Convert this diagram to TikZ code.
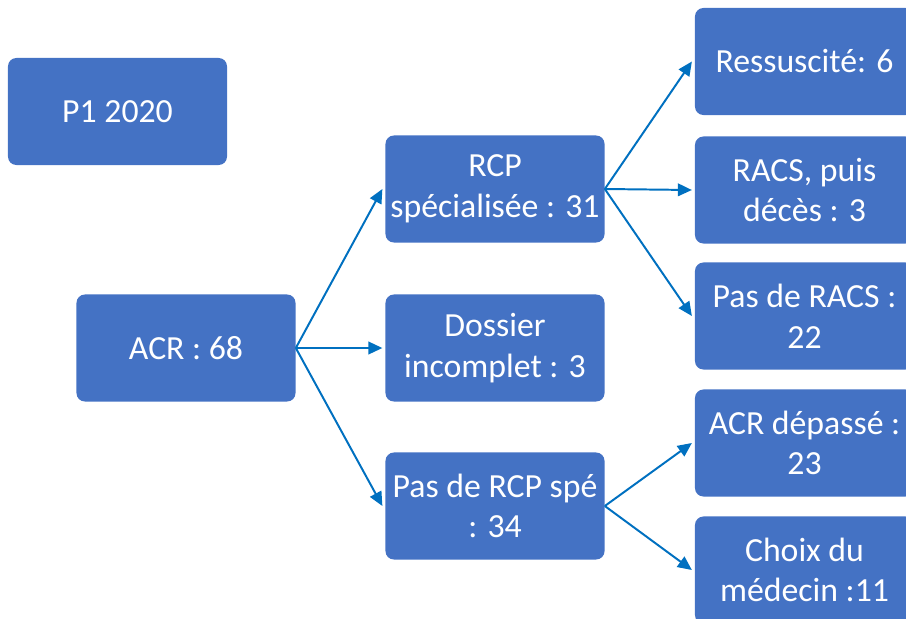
\documentclass[tikz,border=0pt]{standalone}
\usepackage{fontspec}
\setmainfont{Carlito}
\usetikzlibrary{arrows.meta}
\definecolor{boxblue}{HTML}{4472C4}
\definecolor{arrowblue}{HTML}{0070C0}
\tikzset{
  box/.style={fill=boxblue, rounded corners=6pt, minimum width=5.475cm,
    minimum height=2.675cm, text=white, align=center, inner xsep=0pt,
    inner ysep=2pt, font=\fontsize{24}{29}\selectfont},
  link/.style={draw=arrowblue, line width=1.4pt,
    -{Triangle[length=10pt,width=9pt]}}
}
\begin{document}
\begin{tikzpicture}[x=0.025cm, y=-0.025cm]
  \useasboundingbox (0,0) rectangle (906,618);
  \clip (0,0) rectangle (906,618);
  % first column
  \node[box] (year) at (117.5,111.5) {P1 2020};
  \node[box] (acr) at (186,348) {ACR : 68};
  % second column
  \node[box] (rcp) at (495,189) {RCP\\spécialisée : 31};
  \node[box] (dossier) at (495,348) {Dossier\\incomplet : 3};
  \node[box] (norcp) at (495,506) {Pas de RCP spé\\: 34};
  % third column
  \node[box] (ressu) at (804.5,61.5) {Ressuscité: 6};
  \node[box] (racs) at (804.5,190) {RACS, puis\\décès : 3};
  \node[box] (noracs) at (804.5,316) {Pas de RACS :\\22};
  \node[box] (depasse) at (804.5,443) {ACR dépassé :\\23};
  \node[box] (choix) at (804.5,570) {Choix du\\médecin :11};
  % links
  \foreach \dst in {rcp,dossier,norcp} {
    \draw[link] (acr.east) -- ([xshift=-2pt]\dst.west);
  }
  \foreach \dst in {ressu,racs,noracs} {
    \draw[link] (rcp.east) -- ([xshift=-2pt]\dst.west);
  }
  \foreach \dst in {depasse,choix} {
    \draw[link] (norcp.east) -- ([xshift=-2pt]\dst.west);
  }
\end{tikzpicture}
\end{document}
